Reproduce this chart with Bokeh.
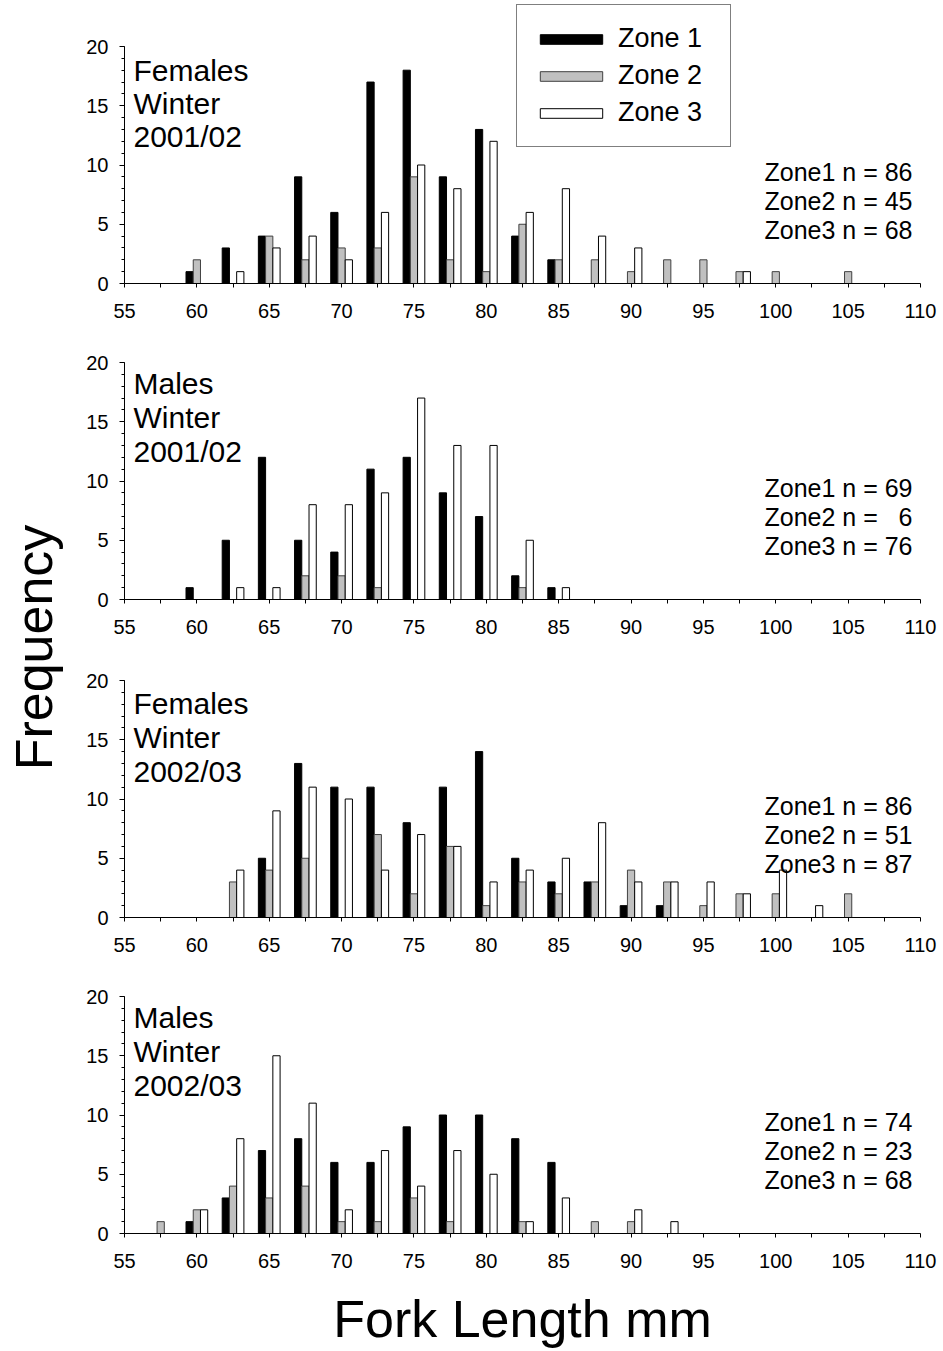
from bokeh.plotting import figure
from bokeh.layouts import row, column
from bokeh.models import Range1d, FixedTicker, Label, Legend, LegendItem, ColumnDataSource
from bokeh.transform import dodge
from bokeh.embed import file_html
from bokeh.resources import INLINE

FONT = "Liberation Sans"

# Fork length bins (mm)
bins = [57.5, 60.0, 62.5, 65.0, 67.5, 70.0, 72.5, 75.0, 77.5, 80.0,
        82.5, 85.0, 87.5, 90.0, 92.5, 95.0, 97.5, 100.0, 102.5, 105.0]

# Females, Winter 2001/02
f0102_z1 = [0, 1, 3, 4, 9, 6, 17, 18, 9, 13, 4, 2, 0, 0, 0, 0, 0, 0, 0, 0]
f0102_z2 = [0, 2, 0, 4, 2, 3, 3, 9, 2, 1, 5, 2, 2, 1, 2, 2, 1, 1, 0, 1]
f0102_z3 = [0, 0, 1, 3, 4, 2, 6, 10, 8, 12, 6, 8, 4, 3, 0, 0, 1, 0, 0, 0]
# Males, Winter 2001/02
m0102_z1 = [0, 1, 5, 12, 5, 4, 11, 12, 9, 7, 2, 1, 0, 0, 0, 0, 0, 0, 0, 0]
m0102_z2 = [0, 0, 0, 0, 2, 2, 1, 0, 0, 0, 1, 0, 0, 0, 0, 0, 0, 0, 0, 0]
m0102_z3 = [0, 0, 1, 1, 8, 8, 9, 17, 13, 13, 5, 1, 0, 0, 0, 0, 0, 0, 0, 0]
# Females, Winter 2002/03
f0203_z1 = [0, 0, 0, 5, 13, 11, 11, 8, 11, 14, 5, 3, 3, 1, 1, 0, 0, 0, 0, 0]
f0203_z2 = [0, 0, 3, 4, 5, 0, 7, 2, 6, 1, 3, 2, 3, 4, 3, 1, 2, 2, 0, 2]
f0203_z3 = [0, 0, 4, 9, 11, 10, 4, 7, 6, 3, 4, 5, 8, 3, 3, 3, 2, 4, 1, 0]
# Males, Winter 2002/03
m0203_z1 = [0, 1, 3, 7, 8, 6, 6, 9, 10, 10, 8, 6, 0, 0, 0, 0, 0, 0, 0, 0]
m0203_z2 = [1, 2, 4, 3, 4, 1, 1, 3, 1, 0, 1, 0, 1, 1, 0, 0, 0, 0, 0, 0]
m0203_z3 = [0, 2, 8, 15, 11, 2, 7, 4, 7, 5, 1, 3, 0, 2, 1, 0, 0, 0, 0, 0]

titles = [["Females", "Winter", "2001/02"], ["Males", "Winter", "2001/02"],
          ["Females", "Winter", "2002/03"], ["Males", "Winter", "2002/03"]]
n_texts = [["Zone1 n = 86", "Zone2 n = 45", "Zone3 n = 68"],
           ["Zone1 n = 69", "Zone2 n = \u00a0\u00a06", "Zone3 n = 76"],
           ["Zone1 n = 86", "Zone2 n = 51", "Zone3 n = 87"],
           ["Zone1 n = 74", "Zone2 n = 23", "Zone3 n = 68"]]
zone_names = ["Zone 1", "Zone 2", "Zone 3"]

x_ticks = [55, 60, 65, 70, 75, 80, 85, 90, 95, 100, 105, 110]
x_minor = [t + 2.5 for t in x_ticks[:-1]]
y_ticks = [0, 5, 10, 15, 20]
y_minor = list(range(0, 21))

zone_fill = ["black", "#c0c0c0", "white"]
zone_line = ["black", "#404040", "black"]
zone_off = [-0.5, 0.0, 0.5]

BASE_SHIFT = 0.32  # em correction for Bokeh alphabetic anchor
TOTAL_H = 1351


def make_panel(zones, title_lines, n_lines, height, top, bottom, y_end, title_off, title_gap,
               legend=False, xlabel=None):
    p = figure(width=875, height=height, x_range=Range1d(55, 110), y_range=Range1d(0, y_end),
               output_backend="svg", toolbar_location=None,
               min_border_left=56, min_border_right=23,
               min_border_top=top, min_border_bottom=bottom)
    p.outline_line_color = None
    p.grid.visible = False
    src = ColumnDataSource(dict(x=bins, z1=zones[0], z2=zones[1], z3=zones[2]))
    rs = []
    for i, key in enumerate(["z1", "z2", "z3"]):
        r = p.vbar(x=dodge("x", zone_off[i], range=p.x_range), top=key, bottom=0, width=0.5,
                   source=src, fill_color=zone_fill[i], line_color=zone_line[i], line_width=1)
        rs.append(r)

    xa = p.xaxis[0]
    xa.ticker = FixedTicker(ticks=x_ticks, minor_ticks=x_minor)
    xa.bounds = (55, 110)
    xa.major_tick_in = 0
    xa.major_tick_out = 4
    xa.minor_tick_in = 0
    xa.minor_tick_out = 4
    xa.axis_line_color = "black"
    xa.major_tick_line_color = "black"
    xa.minor_tick_line_color = "black"
    xa.major_label_text_font = FONT
    xa.major_label_text_font_size = "20px"
    xa.major_label_text_color = "black"
    xa.major_label_standoff = 16
    if xlabel:
        xa.axis_label = xlabel
        xa.axis_label_text_font = FONT
        xa.axis_label_text_font_size = "52px"
        xa.axis_label_text_font_style = "normal"
        xa.axis_label_text_color = "black"
        xa.axis_label_standoff = 19

    ya = p.yaxis[0]
    ya.ticker = FixedTicker(ticks=y_ticks, minor_ticks=y_minor)
    ya.bounds = (0, 20)
    ya.major_tick_in = 0
    ya.major_tick_out = 5
    ya.minor_tick_in = 0
    ya.minor_tick_out = 3
    ya.axis_line_color = "black"
    ya.major_tick_line_color = "black"
    ya.minor_tick_line_color = "black"
    ya.major_label_text_font = FONT
    ya.major_label_text_font_size = "20px"
    ya.major_label_text_color = "black"
    ya.major_label_standoff = 11

    tfs = 30
    for i, line in enumerate(title_lines):
        p.add_layout(Label(x=55, y=20, x_offset=9,
                           y_offset=-(title_off + title_gap * i) + BASE_SHIFT * tfs, text=line,
                           text_font=FONT, text_font_size=f"{tfs}px", text_color="black",
                           text_align="left", text_baseline="alphabetic"))
    nfs = 25
    for i, line in enumerate(n_lines):
        p.add_layout(Label(x=110, y=0, x_offset=-8,
                           y_offset=[104, 75, 46][i] + BASE_SHIFT * nfs, text=line,
                           text_font=FONT, text_font_size=f"{nfs}px", text_color="black",
                           text_align="right", text_baseline="alphabetic"))

    if legend:
        leg = Legend(items=[LegendItem(label=zone_names[i], renderers=[rs[i]]) for i in range(3)],
                     location=(392, 136), padding=15, spacing=0, margin=0,
                     glyph_width=78, glyph_height=12, label_standoff=8, label_width=97,
                     label_height=37,
                     label_text_font=FONT, label_text_font_size="27px", label_text_color="black",
                     border_line_color="black", border_line_width=1,
                     background_fill_color="white", background_fill_alpha=1.0)
        p.add_layout(leg)
    return p


p1 = make_panel([f0102_z1, f0102_z2, f0102_z3], titles[0], n_texts[0], 328, 4, 45, 279 / 11.85,
                34, 33, legend=True)
p2 = make_panel([m0102_z1, m0102_z2, m0102_z3], titles[1], n_texts[1], 317, 34, 46, 20, 31, 34)
p3 = make_panel([f0203_z1, f0203_z2, f0203_z3], titles[2], n_texts[2], 317, 35, 45, 20, 33, 34)
p4 = make_panel([m0203_z1, m0203_z2, m0203_z3], titles[3], n_texts[3], 389, 34, 118, 20, 30.5, 34,
                xlabel="Fork Length mm")

lab = figure(width=68, height=TOTAL_H, x_range=Range1d(0, 68), y_range=Range1d(0, TOTAL_H),
             output_backend="svg", toolbar_location=None, min_border=0,
             x_axis_type=None, y_axis_type=None)
lab.outline_line_color = None
lab.add_layout(Label(x=50 - BASE_SHIFT * 52, y=TOTAL_H - 647, text="Frequency", angle=90,
                     angle_units="deg", text_align="center", text_baseline="alphabetic",
                     text_font=FONT, text_font_size="52px", text_color="black"))

layout = row(lab, column(p1, p2, p3, p4))

with open("out.html", "w") as f:
    f.write(file_html(layout, INLINE))
